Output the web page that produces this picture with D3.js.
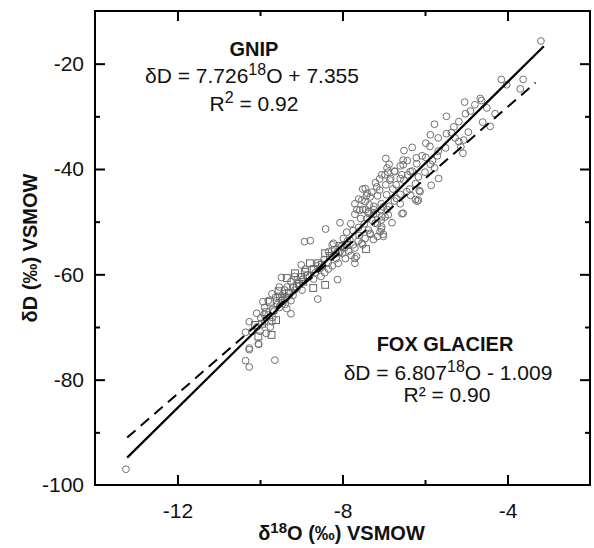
<!DOCTYPE html>
<html>
<head>
<meta charset="utf-8">
<script src="https://cdn.jsdelivr.net/npm/d3@7"></script>
<style>
  html,body{margin:0;padding:0;background:#fff;}
  svg text{font-family:"Liberation Sans",Arial,sans-serif;fill:#111;}
</style>
</head>
<body>
<svg id="chart" width="594" height="548"></svg>
<script>
/* ── data ── */
var xMajor=[-12,-8,-4], xMinor=[-10,-6];
var yMajor=[-100,-80,-60,-40,-20], yMinor=[-90,-70,-50,-30];

// circles: [d18O, dD]
var circlePts=[
 [-3.19,-15.7],[-4.15,-23.0],[-3.62,-23.0],[-3.69,-24.8],[-4.02,-24.0],[-5.04,-27.3],[-4.66,-26.6],[-4.63,-27.0],
 [-4.79,-27.8],[-5.02,-29.5],[-4.90,-29.0],[-4.60,-31.1],[-4.42,-31.9],[-5.18,-31.0],[-5.48,-30.0],[-5.77,-31.5],
 [-5.87,-33.5],[-5.48,-33.3],[-5.68,-34.1],[-5.36,-33.1],[-5.27,-34.1],[-5.06,-34.5],[-5.13,-35.8],[-5.08,-37.0],
 [-5.18,-34.8],[-5.98,-35.1],[-5.88,-35.7],[-5.68,-36.6],[-5.70,-37.5],[-5.82,-38.4],[-5.98,-37.8],[-5.87,-39.1],
 [-6.31,-35.9],[-6.51,-36.5],[-6.43,-38.4],[-6.53,-38.3],[-6.21,-37.9],[-6.07,-37.5],[-5.77,-39.8],[-5.67,-41.8],
 [-5.85,-43.1],[-6.95,-38.0],[-6.87,-39.1],[-6.60,-39.4],[-6.31,-40.4],[-6.42,-41.1],[-6.74,-40.4],[-6.92,-39.8],
 [-6.97,-41.1],[-7.10,-41.9],[-6.83,-41.8],[-6.56,-41.1],[-6.51,-42.1],[-6.23,-42.8],[-6.14,-44.1],[-6.19,-46.1],
 [-6.23,-45.8],[-6.37,-43.8],[-6.78,-43.8],[-6.60,-44.8],[-6.74,-46.1],[-6.56,-48.5],[-6.87,-47.1],[-6.92,-47.7],
 [-7.51,-43.8],[-7.42,-45.1],[-7.29,-44.4],[-7.15,-45.1],[-7.24,-47.1],[-7.06,-46.6],[-7.19,-48.5],[-6.97,-49.1],
 [-7.61,-45.7],[-7.51,-47.7],[-7.38,-48.4],[-7.65,-47.7],[-7.56,-49.4],[-7.29,-49.7],[-7.15,-50.4],[-7.06,-51.4],
 [-7.01,-52.4],[-7.33,-52.4],[-7.47,-50.4],[-7.61,-51.1],[-7.74,-51.7],[-7.06,-49.7],[-7.44,-47.7],[-7.24,-47.7],
 [-7.06,-47.7],[-7.62,-53.7],[-7.74,-54.4],[-7.88,-53.7],[-8.02,-54.7],[-8.06,-55.7],[-7.70,-55.0],[-7.51,-54.4],
 [-7.79,-56.4],[-7.70,-57.0],[-7.93,-57.0],[-8.15,-57.0],[-8.25,-54.4],[-8.34,-55.7],[-8.25,-58.4],[-8.41,-51.4],
 [-8.06,-50.2],[-8.92,-53.8],[-8.78,-53.6],[-8.34,-59.0],[-8.43,-59.7],[-8.52,-60.4],[-8.61,-58.4],[-8.66,-59.7],
 [-8.80,-60.4],[-8.12,-61.0],[-9.00,-58.2],[-9.16,-60.4],[-8.98,-61.0],[-9.07,-61.7],[-9.25,-61.4],[-9.34,-62.4],
 [-9.16,-63.0],[-8.98,-63.0],[-9.48,-60.6],[-9.53,-62.4],[-9.44,-63.7],[-9.34,-64.3],[-9.25,-65.0],[-9.48,-65.0],
 [-9.62,-64.3],[-9.71,-63.7],[-9.57,-65.7],[-9.53,-66.3],[-9.39,-65.7],[-9.80,-65.0],[-9.89,-66.3],[-9.66,-67.0],
 [-9.25,-67.5],[-9.80,-67.7],[-9.89,-69.0],[-9.71,-69.0],[-9.75,-70.0],[-9.98,-68.3],[-10.08,-70.0],
 [-10.26,-69.0],[-10.35,-71.0],[-10.26,-74.3],[-10.35,-76.4],[-10.26,-77.6],[-10.03,-73.3],[-9.64,-76.3],
 [-8.60,-64.7],[-13.25,-97.0],
 [-6.53,-39.2],[-6.36,-40.5],[-6.16,-41.5],[-6.12,-44.3],[-6.16,-45.9],[-6.44,-44.3],[-6.73,-40.5],[-6.85,-42.1],
 [-7.05,-41.1],[-7.17,-43.4],[-7.45,-43.7],[-7.53,-45.9],[-7.33,-45.3],[-6.93,-44.9],[-7.01,-47.2],[-7.05,-49.1],
 [-6.89,-48.7],[-6.53,-48.4],[-6.69,-45.6],[-7.37,-48.1],[-7.58,-47.8],[-7.21,-50.3],[-7.05,-51.0],[-7.37,-51.6],
 [-7.70,-57.9],[-7.66,-56.6],[-8.10,-57.9],[-8.22,-54.1],[-7.98,-53.2],[-7.82,-53.5],[-7.53,-54.1],[-7.33,-52.2],
 [-7.09,-51.9],[-7.01,-52.8],[-9.93,-65.2],[-10.08,-67.4],[-10.20,-70.9],[-10.26,-74.0],[-10.04,-73.2],
 [-8.45,-57.2],[-8.35,-57.8],[-8.20,-56.2],[-8.00,-56.0],[-7.85,-55.6],[-7.95,-55.0],[-8.55,-58.9],[-8.70,-60.9],
 [-8.90,-59.0],[-9.10,-61.0],[-9.20,-64.0],[-9.40,-63.0],[-9.60,-65.0],[-9.35,-66.5],[-9.90,-67.6],[-9.70,-68.2],
 [-10.00,-70.8],[-9.85,-71.2],[-7.60,-52.6],[-7.45,-53.2],[-7.25,-53.4],[-7.15,-52.8],[-7.40,-49.4],[-7.25,-48.6],
 [-7.45,-46.2],[-7.70,-46.6],[-7.35,-46.8],[-7.10,-44.0],[-6.95,-43.0],[-6.70,-43.0],[-6.60,-41.8],[-6.90,-40.6],
 [-7.20,-42.6],[-7.40,-44.6],[-7.70,-48.6],[-7.80,-50.4],[-7.90,-52.0],[-6.80,-50.2],[-6.60,-46.6],[-6.35,-45.0],
 [-6.20,-39.0],[-6.00,-40.6],[-5.50,-36.0],[-5.30,-32.0],[-4.95,-33.0],[-4.50,-28.4],[-4.30,-29.5]
];

// squares: [d18O, dD]
var squarePts=[
 [-7.43,-55.2],[-8.42,-62.0],[-8.71,-62.6],[-9.72,-71.5],[-10.04,-71.8],[-9.76,-65.2],[-10.12,-69.6],[-9.61,-68.7],
 [-9.35,-60.7],[-9.15,-59.8],[-9.11,-62.3],[-8.95,-61.4],[-8.59,-57.9],[-8.42,-56.0],[-8.18,-55.4],[-7.90,-54.4],
 [-8.91,-59.5],[-8.79,-57.9],[-9.52,-64.2],[-9.68,-66.8],[-9.30,-63.5],[-9.40,-64.5],[-9.20,-62.5],[-9.00,-60.5],
 [-8.70,-59.0],[-8.30,-56.5],[-8.10,-55.8],[-9.85,-67.2],[-9.45,-65.0],[-8.85,-60.2],[-8.50,-58.2],[-9.05,-61.8],
 [-8.05,-54.6],[-9.55,-63.2],[-9.95,-69.4]
];

// regression lines, end points
var gnipX=[-13.22,-3.12], gnipY=[-94.8,-16.7];
var foxX=[-13.22,-3.32],  foxY=[-91.0,-23.6];

/* ── layout ── */
var svg=d3.select('#chart');
var L=95, R=590, T=11, B=485;
var FS=20, TFS=21;
var fmt=function(d){return String(d)};   // plain hyphen minus, like the figure

var x=d3.scaleLinear().domain([-14,-2]).range([L,R]);
var y=d3.scaleLinear().domain([-100,-10]).range([B,T]);

/* ── points ── */
var gp=svg.append('g');
gp.selectAll('circle').data(circlePts).enter().append('circle')
  .attr('cx',function(d){return x(d[0])}).attr('cy',function(d){return y(d[1])})
  .attr('r',3.4).attr('fill','none').attr('stroke','#707070').attr('stroke-width',1);
gp.selectAll('rect').data(squarePts).enter().append('rect')
  .attr('x',function(d){return x(d[0])-3.4}).attr('y',function(d){return y(d[1])-3.4})
  .attr('width',6.8).attr('height',6.8).attr('fill','none').attr('stroke','#666').attr('stroke-width',1);

/* ── regression lines ── */
var line=d3.line().x(function(d){return x(d[0])}).y(function(d){return y(d[1])});
svg.append('path').datum(d3.zip(foxX,foxY)).attr('d',line)
  .attr('fill','none').attr('stroke','#000').attr('stroke-width',2).attr('stroke-dasharray','11,7');
svg.append('path').datum(d3.zip(gnipX,gnipY)).attr('d',line)
  .attr('fill','none').attr('stroke','#000').attr('stroke-width',2.2);

/* ── axes, ticks inward on all sides ── */
function styleAx(g){
  g.select('.domain').remove();
  g.selectAll('line').attr('stroke','#000').attr('stroke-width',2);
  g.selectAll('text').attr('font-size',TFS+'px').attr('fill','#111').attr('font-family','Liberation Sans,Arial,sans-serif');
}
svg.append('g').attr('transform','translate(0,'+B+')')
  .call(d3.axisBottom(x).tickValues(xMajor).tickSize(-10).tickPadding(18).tickFormat(fmt)).call(styleAx);
svg.append('g').attr('transform','translate(0,'+B+')')
  .call(d3.axisBottom(x).tickValues(xMinor).tickSize(-5).tickFormat('')).call(styleAx);
svg.append('g').attr('transform','translate(0,'+T+')')
  .call(d3.axisTop(x).tickValues(xMajor).tickSize(-10).tickFormat('')).call(styleAx);
svg.append('g').attr('transform','translate(0,'+T+')')
  .call(d3.axisTop(x).tickValues(xMinor).tickSize(-5).tickFormat('')).call(styleAx);

svg.append('g').attr('transform','translate('+L+',0)')
  .call(d3.axisLeft(y).tickValues(yMajor.slice(1)).tickSize(-10).tickPadding(11).tickFormat(fmt)).call(styleAx);
svg.append('g').attr('transform','translate('+L+',0)')
  .call(d3.axisLeft(y).tickValues([-100]).tickSize(0).tickPadding(11).tickFormat(fmt)).call(styleAx);
svg.append('g').attr('transform','translate('+L+',0)')
  .call(d3.axisLeft(y).tickValues(yMinor).tickSize(-5).tickFormat('')).call(styleAx);
svg.append('g').attr('transform','translate('+R+',0)')
  .call(d3.axisRight(y).tickValues(yMajor.slice(1)).tickSize(-10).tickFormat('')).call(styleAx);
svg.append('g').attr('transform','translate('+R+',0)')
  .call(d3.axisRight(y).tickValues(yMinor).tickSize(-5).tickFormat('')).call(styleAx);

svg.append('rect').attr('x',L).attr('y',T).attr('width',R-L).attr('height',B-T)
  .attr('fill','none').attr('stroke','#000').attr('stroke-width',2);

/* ── axis titles ── */
var xt=svg.append('text').attr('x',(L+R)/2-1).attr('y',540).attr('text-anchor','middle')
  .attr('font-size',FS+'px').attr('font-weight','bold');
xt.append('tspan').text('δ');
xt.append('tspan').attr('dy',-7).attr('font-size','15px').text('18');
xt.append('tspan').attr('dy',7).text('O (‰) VSMOW');

svg.append('text').attr('transform','translate(37,'+((T+B)/2)+') rotate(-90)')
  .attr('text-anchor','middle').attr('font-size',FS+'px').attr('font-weight','bold')
  .text('δD (‰) VSMOW');

/* ── annotations ── */
function eqText(cx,by,a,b){
  var t=svg.append('text').attr('x',cx).attr('y',by).attr('text-anchor','middle').attr('font-size','21px');
  t.append('tspan').text('δD = '+a);
  t.append('tspan').attr('dy',-8).attr('font-size','16px').text('18');
  t.append('tspan').attr('dy',8).text('O '+b);
}
svg.append('text').attr('x',254).attr('y',56).attr('text-anchor','middle')
  .attr('font-size',FS+'px').attr('font-weight','bold').text('GNIP');
eqText(252,83,'7.726','+ 7.355');
var r1=svg.append('text').attr('x',254).attr('y',111).attr('text-anchor','middle').attr('font-size','21px');
r1.append('tspan').text('R');
r1.append('tspan').attr('dy',-8).attr('font-size','16px').text('2');
r1.append('tspan').attr('dy',8).text(' = 0.92');

svg.append('text').attr('x',445).attr('y',351).attr('text-anchor','middle')
  .attr('font-size',FS+'px').attr('font-weight','bold').text('FOX GLACIER');
eqText(448,380,'6.807','- 1.009');
svg.append('text').attr('x',447).attr('y',402).attr('text-anchor','middle')
  .attr('font-size','21px').text('R² = 0.90');
</script>
</body>
</html>
